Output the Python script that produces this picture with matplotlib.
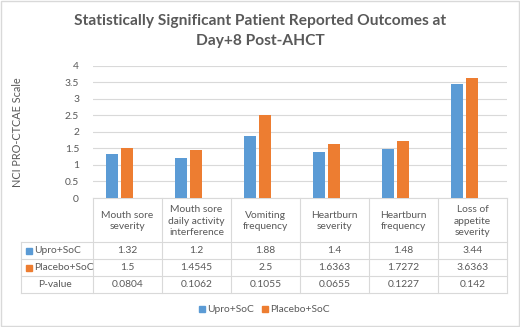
import matplotlib.pyplot as plt
import numpy as np

# data
categories = ["Mouth sore\nseverity", "Mouth sore\ndaily activity\ninterference",
              "Vomiting\nfrequency", "Heartburn\nseverity", "Heartburn\nfrequency",
              "Loss of\nappetite\nseverity"]
upro = [1.32, 1.2, 1.88, 1.4, 1.48, 3.44]
placebo = [1.5, 1.4545, 2.5, 1.6363, 1.7272, 3.6363]
pvalue = ["0.0804", "0.1062", "0.1055", "0.0655", "0.1227", "0.142"]
upro_lbl = ["1.32", "1.2", "1.88", "1.4", "1.48", "3.44"]
placebo_lbl = ["1.5", "1.4545", "2.5", "1.6363", "1.7272", "3.6363"]

BLUE = "#5B9BD5"
ORANGE = "#ED7D31"
TXT = "#595959"
GRID = "#d9d9d9"

plt.rcParams['font.family'] = ['Lato', 'DejaVu Sans']
FS = 7.4

W, H = 520, 327
fig = plt.figure(figsize=(W / 100, H / 100), dpi=100)

def fx(px):
    return px / W

def fy(py):
    return 1 - py / H

# plot area in pixels
left, right, top, bottom = 93, 507, 65.5, 198
ax = fig.add_axes([fx(left), fy(bottom), fx(right - left), (bottom - top) / H])
x = np.arange(len(categories))
ax.bar(x - 0.11, upro, 0.18, color=BLUE, zorder=3)
ax.bar(x + 0.11, placebo, 0.18, color=ORANGE, zorder=3)
ax.set_xlim(-0.384, 5.616)
ax.set_ylim(0, 4)
ax.set_yticks(np.arange(0, 4.01, 0.5))
ax.set_yticklabels(["0", "0.5", "1", "1.5", "2", "2.5", "3", "3.5", "4"])
ax.set_xticks([])
ax.yaxis.grid(True, color=GRID, linewidth=0.8)
ax.tick_params(axis='y', length=0, labelsize=FS, labelcolor=TXT, pad=10)
for s in ["top", "right", "left"]:
    ax.spines[s].set_visible(False)
ax.spines["bottom"].set_color(GRID)
ax.set_ylabel("NCI PRO-CTCAE Scale", fontsize=7.8, color=TXT)
ax.yaxis.set_label_coords((23 - left) / (right - left), 0.5)

# title
fig.text(fx(260), fy(31), "Statistically Significant Patient Reported Outcomes at\nDay+8 Post-AHCT",
         ha="center", va="center", fontsize=11.2, fontweight="bold", color=TXT,
         linespacing=1.5)

# data table under the chart
tab = fig.add_axes([0, 0, 1, 1])
tab.set_xlim(0, W)
tab.set_ylim(H, 0)
tab.axis("off")
col_w = (right - left) / len(categories)
hdr_bot = 242
row_h = 17
rows = [("Upro+SoC", BLUE, upro_lbl), ("Placebo+SoC", ORANGE, placebo_lbl), ("P-value", None, pvalue)]
tbl_bot = hdr_bot + row_h * len(rows)
lc = dict(color=GRID, linewidth=0.8)
for i in range(len(categories) + 1):
    tab.plot([left + i * col_w] * 2, [bottom, tbl_bot], **lc)
tab.plot([21, 21], [hdr_bot, tbl_bot], **lc)
for r in range(len(rows) + 1):
    yy = hdr_bot + r * row_h
    tab.plot([21, right], [yy, yy], **lc)
for i, c in enumerate(categories):
    tab.text(left + (i + 0.5) * col_w, (bottom + hdr_bot) / 2 + 1, c, ha="center", va="center",
             fontsize=FS, color=TXT, linespacing=1.3)
for r, (name, col, vals) in enumerate(rows):
    yc = hdr_bot + (r + 0.5) * row_h
    if col:
        tab.add_patch(plt.Rectangle((26, yc - 3), 6, 6, color=col))
        tab.text(34, yc, name, ha="left", va="center", fontsize=FS, color=TXT)
    else:
        tab.text(55, yc, name, ha="center", va="center", fontsize=FS, color=TXT)
    for i, v in enumerate(vals):
        tab.text(left + (i + 0.5) * col_w, yc, v, ha="center", va="center", fontsize=FS, color=TXT)

# legend
tab.add_patch(plt.Rectangle((199, 306), 6, 6, color=BLUE))
tab.text(207, 309, "Upro+SoC", ha="left", va="center", fontsize=FS, color=TXT)
tab.add_patch(plt.Rectangle((262, 306), 6, 6, color=ORANGE))
tab.text(270, 309, "Placebo+SoC", ha="left", va="center", fontsize=FS, color=TXT)

# outer border
tab.add_patch(plt.Rectangle((0.5, 0.5), W - 1.5, H - 1.5, fill=False, edgecolor=GRID, linewidth=1))

fig.savefig("out.png", dpi=100)
